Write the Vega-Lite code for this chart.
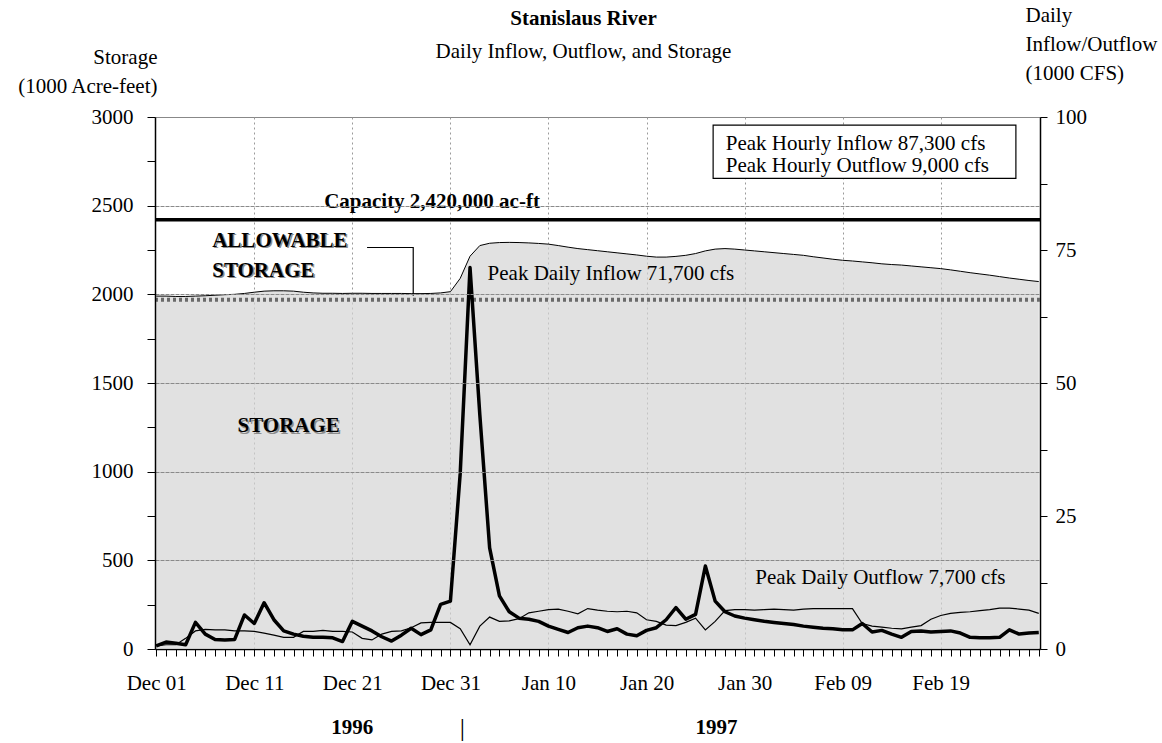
{
  "$schema": "https://vega.github.io/schema/vega-lite/v6.json",
  "autosize": {"type": "none"},
  "width": 885,
  "height": 532,
  "padding": {"left": 155, "top": 117, "right": 122, "bottom": 94},
  "background": "white",
  "config": {
    "font": "Liberation Serif",
    "view": {"stroke": "#888888", "strokeWidth": 1},
    "axis": {"labelFont": "Liberation Serif", "labelFontSize": 21, "labelColor": "black", "titleFont": "Liberation Serif", "titleFontSize": 21, "titleFontWeight": "normal", "titleColor": "black", "domainColor": "black", "tickColor": "black"},
    "text": {"font": "Liberation Serif", "fontSize": 21, "color": "black"}
  },
  "title": {
    "text": "Stanislaus River",
    "subtitle": "Daily Inflow, Outflow, and Storage",
    "font": "Liberation Serif", "fontSize": 21, "fontWeight": "bold", "color": "black",
    "subtitleFont": "Liberation Serif", "subtitleFontSize": 21, "subtitleColor": "black", "subtitlePadding": 12,
    "anchor": "middle", "frame": "group", "dx": -14, "offset": -58
  },
  "datasets": {
    "daily": [
      {"date":"1996-12-01T00:00","storage":1990,"inflow":0.6,"outflow":0.6},
      {"date":"1996-12-02T00:00","storage":1990,"inflow":1.3,"outflow":0.8},
      {"date":"1996-12-03T00:00","storage":1988,"inflow":1.1,"outflow":0.8},
      {"date":"1996-12-04T00:00","storage":1988,"inflow":0.8,"outflow":2.0},
      {"date":"1996-12-05T00:00","storage":1990,"inflow":5.0,"outflow":3.4},
      {"date":"1996-12-06T00:00","storage":1992,"inflow":2.8,"outflow":3.7},
      {"date":"1996-12-07T00:00","storage":1995,"inflow":1.8,"outflow":3.6},
      {"date":"1996-12-08T00:00","storage":1998,"inflow":1.7,"outflow":3.6},
      {"date":"1996-12-09T00:00","storage":2000,"inflow":1.8,"outflow":3.4},
      {"date":"1996-12-10T00:00","storage":2005,"inflow":6.4,"outflow":3.4},
      {"date":"1996-12-11T00:00","storage":2012,"inflow":4.8,"outflow":3.3},
      {"date":"1996-12-12T00:00","storage":2018,"inflow":8.7,"outflow":3.0},
      {"date":"1996-12-13T00:00","storage":2020,"inflow":5.5,"outflow":2.6},
      {"date":"1996-12-14T00:00","storage":2020,"inflow":3.4,"outflow":2.2},
      {"date":"1996-12-15T00:00","storage":2018,"inflow":2.8,"outflow":2.2},
      {"date":"1996-12-16T00:00","storage":2012,"inflow":2.4,"outflow":3.3},
      {"date":"1996-12-17T00:00","storage":2008,"inflow":2.2,"outflow":3.3},
      {"date":"1996-12-18T00:00","storage":2006,"inflow":2.2,"outflow":3.5},
      {"date":"1996-12-19T00:00","storage":2006,"inflow":2.1,"outflow":3.3},
      {"date":"1996-12-20T00:00","storage":2005,"inflow":1.4,"outflow":3.3},
      {"date":"1996-12-21T00:00","storage":2006,"inflow":5.2,"outflow":3.2},
      {"date":"1996-12-22T00:00","storage":2006,"inflow":4.3,"outflow":2.0},
      {"date":"1996-12-23T00:00","storage":2005,"inflow":3.4,"outflow":1.7},
      {"date":"1996-12-24T00:00","storage":2005,"inflow":2.3,"outflow":2.8},
      {"date":"1996-12-25T00:00","storage":2005,"inflow":1.5,"outflow":3.3},
      {"date":"1996-12-26T00:00","storage":2005,"inflow":2.6,"outflow":3.4},
      {"date":"1996-12-27T00:00","storage":2004,"inflow":3.9,"outflow":4.0},
      {"date":"1996-12-28T00:00","storage":2004,"inflow":2.7,"outflow":4.9},
      {"date":"1996-12-29T00:00","storage":2005,"inflow":3.6,"outflow":5.0},
      {"date":"1996-12-30T00:00","storage":2008,"inflow":8.4,"outflow":5.0},
      {"date":"1996-12-31T00:00","storage":2015,"inflow":9.0,"outflow":5.0},
      {"date":"1997-01-01T00:00","storage":2090,"inflow":33.0,"outflow":3.8},
      {"date":"1997-01-02T00:00","storage":2215,"inflow":71.7,"outflow":0.8},
      {"date":"1997-01-03T00:00","storage":2275,"inflow":44.0,"outflow":4.3},
      {"date":"1997-01-04T00:00","storage":2288,"inflow":19.0,"outflow":6.0},
      {"date":"1997-01-05T00:00","storage":2292,"inflow":10.0,"outflow":5.2},
      {"date":"1997-01-06T00:00","storage":2293,"inflow":7.0,"outflow":5.3},
      {"date":"1997-01-07T00:00","storage":2292,"inflow":5.8,"outflow":5.7},
      {"date":"1997-01-08T00:00","storage":2290,"inflow":5.6,"outflow":6.8},
      {"date":"1997-01-09T00:00","storage":2287,"inflow":5.2,"outflow":7.1},
      {"date":"1997-01-10T00:00","storage":2283,"inflow":4.3,"outflow":7.4},
      {"date":"1997-01-11T00:00","storage":2275,"inflow":3.7,"outflow":7.5},
      {"date":"1997-01-12T00:00","storage":2266,"inflow":3.1,"outflow":7.1},
      {"date":"1997-01-13T00:00","storage":2258,"inflow":4.0,"outflow":6.6},
      {"date":"1997-01-14T00:00","storage":2252,"inflow":4.3,"outflow":7.6},
      {"date":"1997-01-15T00:00","storage":2246,"inflow":4.0,"outflow":7.3},
      {"date":"1997-01-16T00:00","storage":2240,"inflow":3.3,"outflow":7.1},
      {"date":"1997-01-17T00:00","storage":2234,"inflow":3.8,"outflow":7.0},
      {"date":"1997-01-18T00:00","storage":2228,"inflow":2.8,"outflow":7.1},
      {"date":"1997-01-19T00:00","storage":2222,"inflow":2.5,"outflow":6.8},
      {"date":"1997-01-20T00:00","storage":2215,"inflow":3.5,"outflow":5.5},
      {"date":"1997-01-21T00:00","storage":2210,"inflow":4.0,"outflow":5.2},
      {"date":"1997-01-22T00:00","storage":2210,"inflow":5.5,"outflow":4.5},
      {"date":"1997-01-23T00:00","storage":2214,"inflow":7.8,"outflow":4.4},
      {"date":"1997-01-24T00:00","storage":2220,"inflow":5.6,"outflow":5.0},
      {"date":"1997-01-25T00:00","storage":2230,"inflow":6.5,"outflow":5.8},
      {"date":"1997-01-26T00:00","storage":2245,"inflow":15.6,"outflow":3.6},
      {"date":"1997-01-27T00:00","storage":2255,"inflow":9.0,"outflow":5.2},
      {"date":"1997-01-28T00:00","storage":2258,"inflow":7.0,"outflow":7.2},
      {"date":"1997-01-29T00:00","storage":2255,"inflow":6.2,"outflow":7.4},
      {"date":"1997-01-30T00:00","storage":2250,"inflow":5.8,"outflow":7.4},
      {"date":"1997-01-31T00:00","storage":2245,"inflow":5.5,"outflow":7.3},
      {"date":"1997-02-01T00:00","storage":2240,"inflow":5.2,"outflow":7.4},
      {"date":"1997-02-02T00:00","storage":2235,"inflow":5.0,"outflow":7.5},
      {"date":"1997-02-03T00:00","storage":2230,"inflow":4.8,"outflow":7.4},
      {"date":"1997-02-04T00:00","storage":2225,"inflow":4.6,"outflow":7.3},
      {"date":"1997-02-05T00:00","storage":2220,"inflow":4.3,"outflow":7.5},
      {"date":"1997-02-06T00:00","storage":2212,"inflow":4.1,"outflow":7.6},
      {"date":"1997-02-07T00:00","storage":2205,"inflow":3.9,"outflow":7.6},
      {"date":"1997-02-08T00:00","storage":2198,"inflow":3.8,"outflow":7.6},
      {"date":"1997-02-09T00:00","storage":2192,"inflow":3.6,"outflow":7.6},
      {"date":"1997-02-10T00:00","storage":2188,"inflow":3.6,"outflow":7.6},
      {"date":"1997-02-11T00:00","storage":2183,"inflow":4.8,"outflow":4.8},
      {"date":"1997-02-12T00:00","storage":2178,"inflow":3.2,"outflow":4.3},
      {"date":"1997-02-13T00:00","storage":2172,"inflow":3.5,"outflow":4.1},
      {"date":"1997-02-14T00:00","storage":2168,"inflow":2.8,"outflow":3.9},
      {"date":"1997-02-15T00:00","storage":2165,"inflow":2.2,"outflow":3.8},
      {"date":"1997-02-16T00:00","storage":2160,"inflow":3.3,"outflow":4.1},
      {"date":"1997-02-17T00:00","storage":2155,"inflow":3.4,"outflow":4.4},
      {"date":"1997-02-18T00:00","storage":2150,"inflow":3.2,"outflow":5.6},
      {"date":"1997-02-19T00:00","storage":2145,"inflow":3.3,"outflow":6.3},
      {"date":"1997-02-20T00:00","storage":2138,"inflow":3.4,"outflow":6.7},
      {"date":"1997-02-21T00:00","storage":2130,"inflow":3.0,"outflow":6.9},
      {"date":"1997-02-22T00:00","storage":2122,"inflow":2.2,"outflow":7.0},
      {"date":"1997-02-23T00:00","storage":2115,"inflow":2.1,"outflow":7.2},
      {"date":"1997-02-24T00:00","storage":2108,"inflow":2.1,"outflow":7.4},
      {"date":"1997-02-25T00:00","storage":2100,"inflow":2.2,"outflow":7.7},
      {"date":"1997-02-26T00:00","storage":2092,"inflow":3.6,"outflow":7.7},
      {"date":"1997-02-27T00:00","storage":2085,"inflow":2.8,"outflow":7.5},
      {"date":"1997-02-28T00:00","storage":2078,"inflow":3.0,"outflow":7.3},
      {"date":"1997-03-01T00:00","storage":2072,"inflow":3.1,"outflow":6.7}
    ],
    "refs": [
      {"name": "capacity", "value": 2420},
      {"name": "allowable", "value": 1970}
    ],
    "connector": [
      {"date": "1996-12-22T12:00", "value": 2264, "seq": 1},
      {"date": "1996-12-27T05:00", "value": 2264, "seq": 2},
      {"date": "1996-12-27T05:00", "value": 1992, "seq": 3}
    ],
    "box": [
      {"date": "1997-01-26T19:00", "date2": "1997-02-26T16:00", "value": 2954, "value2": 2654}
    ],
    "notes": [
      {"text": "Capacity 2,420,000 ac-ft", "date": "1996-12-29T03:00", "value": 2520, "kind": "bold_center"},
      {"text": "ALLOWABLE", "date": "1996-12-06T17:00", "value": 2303, "kind": "bold_left"},
      {"text": "STORAGE", "date": "1996-12-06T17:00", "value": 2134, "kind": "bold_left"},
      {"text": "STORAGE", "date": "1996-12-09T07:00", "value": 1256, "kind": "bold_left"},
      {"text": "Peak Daily Inflow 71,700 cfs", "date": "1997-01-03T19:00", "value": 2117, "kind": "plain_left"},
      {"text": "Peak Daily Outflow 7,700 cfs", "date": "1997-01-31T02:00", "value": 402, "kind": "plain_left"},
      {"text": "Peak Hourly Inflow 87,300 cfs", "date": "1997-01-28T02:00", "value": 2845, "kind": "plain_left"},
      {"text": "Peak Hourly Outflow 9,000 cfs", "date": "1997-01-28T02:00", "value": 2722, "kind": "plain_left"},
      {"text": "1996", "date": "1996-12-21T00:00", "value": -447, "kind": "year"},
      {"text": "1997", "date": "1997-01-27T03:00", "value": -447, "kind": "year"},
      {"text": "|", "date": "1997-01-01T05:00", "value": -447, "kind": "divider"}
    ]
  },
  "layer": [
    {
      "layer": [
        {
          "data": {"name": "daily"},
          "mark": {"type": "area", "color": "#d4d4d4", "line": {"color": "black", "strokeWidth": 1}},
          "encoding": {
            "x": {
              "field": "date", "type": "temporal",
              "scale": {"domain": [{"year": 1996, "month": "nov", "date": 30, "hours": 21}, {"year": 1997, "month": "mar", "date": 1, "hours": 3}]},
              "axis": {
                "title": null,
                "tickCount": {"interval": "day", "step": 1},
                "labelExpr": "indexof(['Dec 01','Dec 11','Dec 21','Dec 31','Jan 10','Jan 20','Jan 30','Feb 09','Feb 19'], timeFormat(datum.value, '%b %d')) >= 0 ? timeFormat(datum.value, '%b %d') : ''",
                "labelOverlap": false, "labelBound": false, "labelFlush": false,
                "tickSize": 7, "tickWidth": 1, "labelPadding": 16, "domainWidth": 1.5,
                "grid": true, "gridColor": "#9a9a9a", "gridDash": [2, 3],
                "gridOpacity": {"condition": {"test": "indexof(['Dec 11','Dec 21','Dec 31','Jan 10','Jan 20','Jan 30','Feb 09','Feb 19'], timeFormat(datum.value, '%b %d')) >= 0", "value": 1}, "value": 0}
              }
            },
            "y": {
              "field": "storage", "type": "quantitative",
              "scale": {"domain": [0, 3000], "nice": false, "zero": false},
              "axis": {
                "title": ["Storage", "(1000 Acre-feet)"],
                "titleAngle": 0, "titleAlign": "right", "titleBaseline": "middle",
                "titleX": 2, "titleY": -60, "titleLineHeight": 29,
                "values": [0, 250, 500, 750, 1000, 1250, 1500, 1750, 2000, 2250, 2500, 2750, 3000],
                "format": "d",
                "labelExpr": "datum.value % 500 == 0 ? datum.label : ''",
                "tickSize": 8, "labelPadding": 14, "domainWidth": 1.5,
                "grid": true, "gridColor": "#8a8a8a", "gridWidth": 1, "gridDash": [4, 1],
                "gridOpacity": {"condition": {"test": "datum.value % 500 == 0 && datum.value > 0 && datum.value < 3000", "value": 1}, "value": 0},
                "zindex": 1
              }
            }
          }
        },
        {
          "data": {"name": "refs"},
          "transform": [{"filter": "datum.name == 'allowable'"}],
          "mark": {"type": "rule", "color": "#6a6a6a", "strokeWidth": 4, "strokeDash": [3, 3]},
          "encoding": {"y": {"field": "value", "type": "quantitative"}}
        },
        {
          "data": {"name": "refs"},
          "transform": [{"filter": "datum.name == 'capacity'"}],
          "mark": {"type": "rule", "color": "black", "strokeWidth": 3.5},
          "encoding": {"y": {"field": "value", "type": "quantitative"}}
        },
        {
          "data": {"name": "connector"},
          "mark": {"type": "line", "color": "black", "strokeWidth": 1.2},
          "encoding": {
            "x": {"field": "date", "type": "temporal"},
            "y": {"field": "value", "type": "quantitative"},
            "order": {"field": "seq", "type": "quantitative"}
          }
        },
        {
          "data": {"name": "notes"},
          "transform": [{"filter": "datum.kind == 'bold_center'"}],
          "mark": {"type": "text", "fontWeight": "bold", "align": "center", "baseline": "middle", "clip": false},
          "encoding": {"x": {"field": "date", "type": "temporal"}, "y": {"field": "value", "type": "quantitative"}, "text": {"field": "text"}}
        },
        {
          "data": {"name": "notes"},
          "transform": [{"filter": "datum.kind == 'bold_left'"}],
          "mark": {"type": "text", "fontWeight": "bold", "align": "left", "baseline": "middle", "color": "#8c8c8c", "dx": 1.5, "dy": 1.5, "clip": false},
          "encoding": {"x": {"field": "date", "type": "temporal"}, "y": {"field": "value", "type": "quantitative"}, "text": {"field": "text"}}
        },
        {
          "data": {"name": "notes"},
          "transform": [{"filter": "datum.kind == 'bold_left'"}],
          "mark": {"type": "text", "fontWeight": "bold", "align": "left", "baseline": "middle", "clip": false},
          "encoding": {"x": {"field": "date", "type": "temporal"}, "y": {"field": "value", "type": "quantitative"}, "text": {"field": "text"}}
        },
        {
          "data": {"name": "box"},
          "mark": {"type": "rect", "fill": "white", "stroke": "black", "strokeWidth": 1.2},
          "encoding": {
            "x": {"field": "date", "type": "temporal"}, "x2": {"field": "date2"},
            "y": {"field": "value", "type": "quantitative"}, "y2": {"field": "value2"}
          }
        },
        {
          "data": {"name": "notes"},
          "transform": [{"filter": "datum.kind == 'plain_left'"}],
          "mark": {"type": "text", "align": "left", "baseline": "middle", "clip": false},
          "encoding": {"x": {"field": "date", "type": "temporal"}, "y": {"field": "value", "type": "quantitative"}, "text": {"field": "text"}}
        },
        {
          "data": {"name": "notes"},
          "transform": [{"filter": "datum.kind == 'year'"}],
          "mark": {"type": "text", "fontWeight": "bold", "align": "center", "baseline": "middle", "clip": false},
          "encoding": {"x": {"field": "date", "type": "temporal"}, "y": {"field": "value", "type": "quantitative"}, "text": {"field": "text"}}
        },
        {
          "data": {"name": "notes"},
          "transform": [{"filter": "datum.kind == 'divider'"}],
          "mark": {"type": "text", "fontSize": 26, "align": "center", "baseline": "middle", "clip": false},
          "encoding": {"x": {"field": "date", "type": "temporal"}, "y": {"field": "value", "type": "quantitative"}, "text": {"field": "text"}}
        }
      ]
    },
    {
      "layer": [
        {
          "data": {"name": "daily"},
          "mark": {"type": "line", "color": "black", "strokeWidth": 1.2},
          "encoding": {
            "x": {"field": "date", "type": "temporal"},
            "y": {
              "field": "outflow", "type": "quantitative",
              "scale": {"domain": [0, 100], "nice": false, "zero": false},
              "axis": {
                "orient": "right",
                "title": ["Daily", "Inflow/Outflow", "(1000 CFS)"],
                "titleAngle": 0, "titleAlign": "left", "titleBaseline": "middle",
                "titleX": -15, "titleY": -102, "titleLineHeight": 29,
                "values": [0, 12.5, 25, 37.5, 50, 62.5, 75, 87.5, 100],
                "labelExpr": "datum.value % 25 == 0 ? format(datum.value, 'd') : ''",
                "tickSize": 7, "labelPadding": 8, "domainWidth": 1.5, "grid": false
              }
            }
          }
        },
        {
          "data": {"name": "daily"},
          "mark": {"type": "line", "color": "black", "strokeWidth": 3.5, "strokeJoin": "round"},
          "encoding": {
            "x": {"field": "date", "type": "temporal"},
            "y": {
              "field": "inflow", "type": "quantitative",
              "axis": {
                "orient": "right",
                "title": ["Daily", "Inflow/Outflow", "(1000 CFS)"],
                "titleAngle": 0, "titleAlign": "left", "titleBaseline": "middle",
                "titleX": -15, "titleY": -102, "titleLineHeight": 29,
                "values": [0, 12.5, 25, 37.5, 50, 62.5, 75, 87.5, 100],
                "labelExpr": "datum.value % 25 == 0 ? format(datum.value, 'd') : ''",
                "tickSize": 7, "labelPadding": 8, "domainWidth": 1.5, "grid": false
              }
            }
          }
        }
      ]
    }
  ],
  "resolve": {"scale": {"y": "independent"}, "axis": {"y": "independent"}}
}
